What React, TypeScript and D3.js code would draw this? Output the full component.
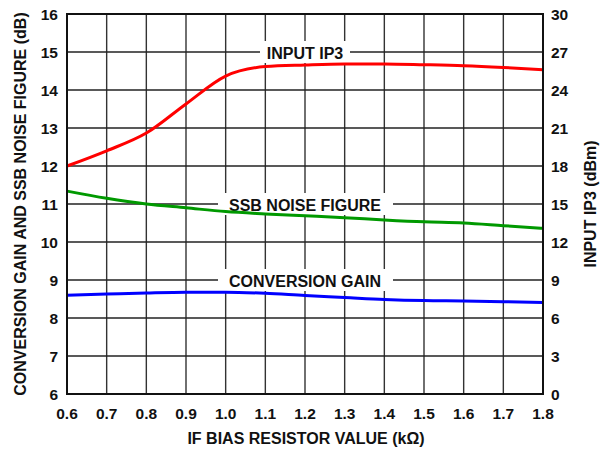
import React from "react";
import * as d3 from "d3";

const xValues = [0.6, 0.7, 0.8, 0.9, 1.0, 1.1, 1.2, 1.3, 1.4, 1.5, 1.6, 1.7, 1.8];
// Input IP3 in dBm (right axis)
const ip3 = [18.0, 19.2, 20.6, 22.9, 25.1, 25.85, 25.98, 26.06, 26.06, 26.0, 25.92, 25.78, 25.6];
// SSB noise figure in dB (left axis)
const noiseFigure = [11.34, 11.15, 11.0, 10.9, 10.8, 10.74, 10.69, 10.64, 10.58, 10.53, 10.5, 10.43, 10.36];
// Conversion gain in dB (left axis)
const convGain = [8.6, 8.63, 8.66, 8.68, 8.68, 8.65, 8.59, 8.54, 8.49, 8.46, 8.45, 8.43, 8.41];

const xTicks = [0.6, 0.7, 0.8, 0.9, 1.0, 1.1, 1.2, 1.3, 1.4, 1.5, 1.6, 1.7, 1.8];
const leftTicks = [6, 7, 8, 9, 10, 11, 12, 13, 14, 15, 16];
const rightTicks = [0, 3, 6, 9, 12, 15, 18, 21, 24, 27, 30];

const W = 608, H = 449;
const L = 67, R = 543, T = 14, B = 394;
const FONT = "'Liberation Sans', Arial, sans-serif";

export default function App() {
  const x = d3.scaleLinear().domain([0.6, 1.8]).range([L, R]);
  const yL = d3.scaleLinear().domain([6, 16]).range([B, T]);
  const yR = d3.scaleLinear().domain([0, 30]).range([B, T]);

  const lineL = d3.line<number>().x((_, i) => x(xValues[i])).curve(d3.curveMonotoneX);
  const redPath = d3.line<number>().x((_, i) => x(xValues[i])).y((d) => yR(d)).curve(d3.curveMonotoneX)(ip3) || "";
  const greenPath = lineL.y((d) => yL(d))(noiseFigure) || "";
  const bluePath = lineL.y((d) => yL(d))(convGain) || "";

  const labels = [
    { text: "INPUT IP3", cx: 305, y: yL(15), x0: 260, x1: 350 },
    { text: "SSB NOISE FIGURE", cx: 305, y: yL(11), x0: 218, x1: 393 },
    { text: "CONVERSION GAIN", cx: 305, y: yL(9), x0: 218, x1: 393 },
  ];

  return (
    <svg width={W} height={H} style={{ position: "absolute", left: 0, top: 0, background: "#fff" }} fontFamily={FONT}>
      <rect x={0} y={0} width={W} height={H} fill="#fff" />
      {xTicks.slice(1, -1).map((t) => (
        <line key={"gx" + t} x1={x(t)} x2={x(t)} y1={T} y2={B} stroke="#333" strokeWidth={1.4} />
      ))}
      {leftTicks.slice(1, -1).map((t) => (
        <line key={"gy" + t} x1={L} x2={R} y1={yL(t)} y2={yL(t)} stroke="#222" strokeWidth={1.4} />
      ))}
      {labels.map((l) => (
        <g key={l.text}>
          <rect x={l.x0} y={l.y - 11} width={l.x1 - l.x0} height={22} fill="#fff" />
          <text x={l.cx} y={l.y + 1} textAnchor="middle" dominantBaseline="central" fontSize={16} fontWeight="bold" fill="#111">
            {l.text}
          </text>
        </g>
      ))}
      <path d={redPath} fill="none" stroke="#ff0000" strokeWidth={3} />
      <path d={greenPath} fill="none" stroke="#009900" strokeWidth={3} />
      <path d={bluePath} fill="none" stroke="#0000ff" strokeWidth={3} />
      <rect x={L} y={T} width={R - L} height={B - T} fill="none" stroke="#111" strokeWidth={2} />
      {leftTicks.map((t) => (
        <text key={"lt" + t} x={58} y={yL(t)} textAnchor="end" dominantBaseline="central" fontSize={15.5} fontWeight="bold" fill="#111">
          {t}
        </text>
      ))}
      {rightTicks.map((t) => (
        <text key={"rt" + t} x={551} y={yR(t)} textAnchor="start" dominantBaseline="central" fontSize={15.5} fontWeight="bold" fill="#111">
          {t}
        </text>
      ))}
      {xTicks.map((t) => (
        <text key={"xt" + t} x={x(t)} y={413} textAnchor="middle" dominantBaseline="central" fontSize={15.5} fontWeight="bold" fill="#111">
          {t.toFixed(1)}
        </text>
      ))}
      <text x={306} y={438} textAnchor="middle" dominantBaseline="central" fontSize={16} fontWeight="bold" fill="#111">
        IF BIAS RESISTOR VALUE (kΩ)
      </text>
      <text transform={`translate(20,${(T + B) / 2}) rotate(-90)`} textAnchor="middle" dominantBaseline="central" fontSize={16} fontWeight="bold" fill="#111">
        CONVERSION GAIN AND SSB NOISE FIGURE (dB)
      </text>
      <text transform={`translate(590,${(T + B) / 2}) rotate(-90)`} textAnchor="middle" dominantBaseline="central" fontSize={16} fontWeight="bold" fill="#111">
        INPUT IP3 (dBm)
      </text>
    </svg>
  );
}
